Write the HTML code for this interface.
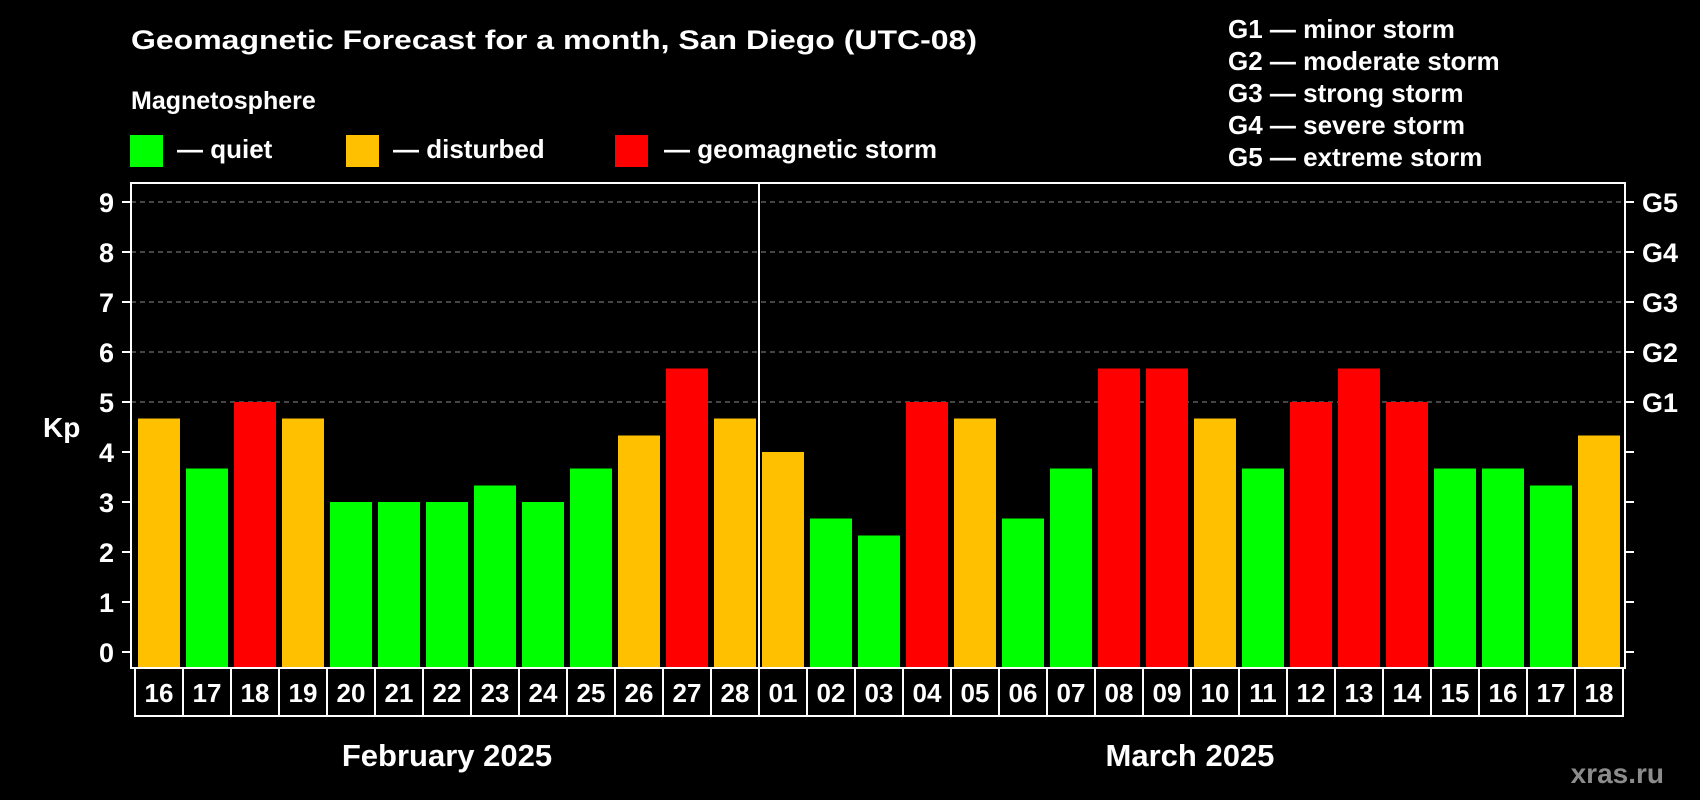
<!DOCTYPE html>
<html><head><meta charset="utf-8"><style>
html,body{margin:0;padding:0;background:#000;width:1700px;height:800px;overflow:hidden}
svg text{font-family:"Liberation Sans",Arial,sans-serif;font-weight:bold;fill:#fff}
</style></head><body>
<svg id="chart" width="1700" height="800" viewBox="0 0 1700 800" xmlns="http://www.w3.org/2000/svg">
<rect width="1700" height="800" fill="#000"/>
<text x="131" y="49" font-size="27" textLength="846" lengthAdjust="spacingAndGlyphs">Geomagnetic Forecast for a month, San Diego (UTC-08)</text>
<text x="131" y="109" font-size="25">Magnetosphere</text>
<g><rect x="130" y="135" width="33" height="32" fill="#00ff00"/><text x="177" y="158" font-size="26">— quiet</text></g>
<g><rect x="346" y="135" width="33" height="32" fill="#ffc000"/><text x="393" y="158" font-size="26">— disturbed</text></g>
<g><rect x="615" y="135" width="33" height="32" fill="#ff0000"/><text x="664" y="158" font-size="26">— geomagnetic storm</text></g>
<g font-size="26">
<text x="1228" y="38">G1 — minor storm</text>
<text x="1228" y="70">G2 — moderate storm</text>
<text x="1228" y="102">G3 — strong storm</text>
<text x="1228" y="134">G4 — severe storm</text>
<text x="1228" y="166">G5 — extreme storm</text>
</g>
<text x="43" y="437" font-size="28">Kp</text>
<g id="grid"></g><g id="bars"></g><g id="axes"></g>
<text x="447" y="766" font-size="31" text-anchor="middle">February 2025</text>
<text x="1190" y="766" font-size="31" text-anchor="middle">March 2025</text>
<text x="1664" y="783" font-size="28" text-anchor="end" style="fill:#8c8c8c">xras.ru</text>
</svg>
<script>
const days = ["16","17","18","19","20","21","22","23","24","25","26","27","28","01","02","03","04","05","06","07","08","09","10","11","12","13","14","15","16","17","18"];
const kpValues = [4.67,3.67,5,4.67,3,3,3,3.33,3,3.67,4.33,5.67,4.67,4,2.67,2.33,5,4.67,2.67,3.67,5.67,5.67,4.67,3.67,5,5.67,5,3.67,3.67,3.33,4.33];
const yTicks = [0,1,2,3,4,5,6,7,8,9];
const gLabels = ["","","","","","G1","G2","G3","G4","G5"];
const monthSplit = 13;

const NS="http://www.w3.org/2000/svg";
const L=131,R=1625,T=183,B=668,X0=138,STEP=48,BW=42;
const y=v=>652-v*50;
const x=i=>X0+i*STEP;
function mk(tag,a,p){const e=document.createElementNS(NS,tag);for(const k in a)e.setAttribute(k,a[k]);p.appendChild(e);return e;}
const grid=document.getElementById('grid'),bars=document.getElementById('bars'),axes=document.getElementById('axes');
yTicks.forEach(t=>{
  if(t>=5){const g=mk('line',{x1:L,x2:R,y1:y(t),y2:y(t),stroke:'#8a8a8a','stroke-width':1,'stroke-dasharray':'5,4'},grid);
  }
  const a=mk('line',{x1:L-9,x2:L,y1:y(t),y2:y(t),stroke:'#fff','stroke-width':2},axes);
  
  const b=mk('line',{x1:R,x2:R+9,y1:y(t),y2:y(t),stroke:'#fff','stroke-width':2},axes);
  
  const tx=mk('text',{x:114,y:y(t)+10,'font-size':27,'text-anchor':'end'},axes);tx.textContent=t;
  
  if(gLabels[t]){const g2=mk('text',{x:1642,y:y(t)+10,'font-size':27},axes);g2.textContent=gLabels[t];
  }
});
kpValues.forEach((v,i)=>{
  const c=v>=5?'#ff0000':(v>=4?'#ffc000':'#00ff00');
  const r=mk('rect',{x:x(i),y:y(v),width:BW,height:B-y(v),fill:c},bars);
  
  const cell=mk('rect',{x:x(i)-3,y:B,width:STEP,height:48,fill:'none',stroke:'#fff','stroke-width':2},axes);
  
  const t=mk('text',{x:x(i)+BW/2,y:702,'font-size':26,'text-anchor':'middle'},axes);t.textContent=days[i];
  
});
const fr=mk('rect',{x:L,y:T,width:R-L,height:B-T,fill:'none',stroke:'#fff','stroke-width':2},axes);

const dv=mk('line',{x1:x(monthSplit)-3,x2:x(monthSplit)-3,y1:T,y2:B,stroke:'#fff','stroke-width':2},axes);

</script>
</body></html>
